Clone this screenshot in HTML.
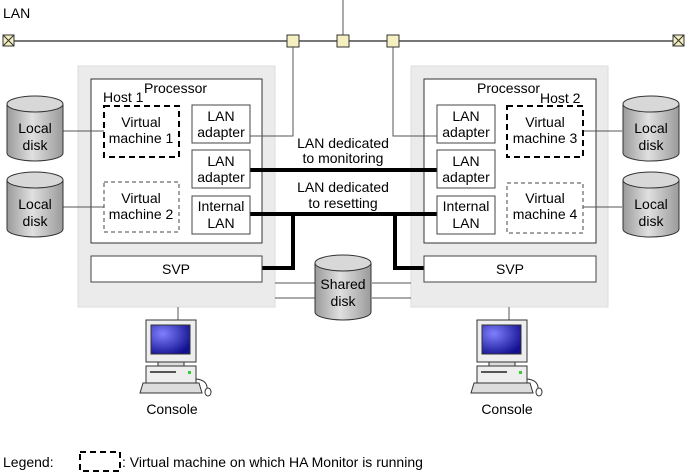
<!DOCTYPE html>
<html><head><meta charset="utf-8"><style>
html,body{margin:0;padding:0;background:#fff;}
svg{display:block;font-family:"Liberation Sans",sans-serif;font-size:14px;}
</style></head><body>
<svg width="687" height="476" viewBox="0 0 687 476" xmlns="http://www.w3.org/2000/svg">
<defs>
<linearGradient id="cyl" x1="0" x2="1" y1="0" y2="0">
<stop offset="0" stop-color="#9a9a9a"/><stop offset="0.45" stop-color="#e0e0e0"/><stop offset="1" stop-color="#9a9a9a"/>
</linearGradient>
<radialGradient id="scr" cx="0.3" cy="0.3" r="0.8">
<stop offset="0" stop-color="#8080ff"/><stop offset="1" stop-color="#101090"/>
</radialGradient>
<g id="disk">
<path d="M0,8 L0,57 A28,8 0 0 0 56,57 L56,8" fill="url(#cyl)" stroke="#333"/>
<ellipse cx="28" cy="8" rx="28" ry="8" fill="#d8d8d8" stroke="#333"/>
</g>
<g id="pc">
<rect x="0" y="0" width="50" height="42" fill="#eee" stroke="#333"/>
<rect x="5" y="5" width="39" height="29" fill="url(#scr)" stroke="#333"/>
<rect x="12" y="42" width="26" height="4" fill="#ddd" stroke="#333"/>
<rect x="0" y="46" width="50" height="17" fill="#eee" stroke="#333"/>
<rect x="4" y="51" width="26" height="2" fill="#555"/>
<rect x="42" y="51" width="3" height="3" fill="#3c3"/>
<path d="M-6,73 L-3,63 L53,63 L56,73 Z" fill="#ddd" stroke="#333"/>
<path d="M50,59 Q62,60 61,70" fill="none" stroke="#333"/>
<ellipse cx="62" cy="72" rx="3" ry="4" fill="#fff" stroke="#333"/>
</g>
</defs>

<text x="3" y="18">LAN</text>
<line x1="9" y1="41" x2="679" y2="41" stroke="#777" stroke-width="2"/>
<line x1="343" y1="0" x2="343" y2="36" stroke="#555"/>
<g stroke="#333" fill="#f4f0c0">
<rect x="3" y="35" width="11" height="11"/><path d="M3,35 L14,46 M14,35 L3,46" fill="none"/>
<rect x="673" y="35" width="11" height="11"/><path d="M673,35 L684,46 M684,35 L673,46" fill="none"/>
<rect x="287" y="35" width="12" height="12"/>
<rect x="337" y="35" width="12" height="12"/>
<rect x="387" y="35" width="12" height="12"/>
</g>

<rect x="78" y="66" width="197" height="241" fill="#ebebeb" stroke="#ddd"/>
<rect x="411" y="66" width="197" height="241" fill="#ebebeb" stroke="#ddd"/>
<rect x="91" y="79" width="171" height="164" fill="#fff" stroke="#333"/>
<rect x="424" y="79" width="172" height="164" fill="#fff" stroke="#333"/>
<text x="144" y="93">Processor</text>
<text x="103" y="102">Host 1</text>
<text x="477" y="93">Processor</text>
<text x="540" y="103">Host 2</text>

<g stroke="#555" fill="none">
<polyline points="250,136 293,136 293,47"/>
<polyline points="437,136 393,136 393,47"/>
<line x1="62" y1="131" x2="104" y2="131"/>
<line x1="62" y1="207" x2="104" y2="207"/>
<line x1="583" y1="131" x2="622" y2="131"/>
<line x1="583" y1="207" x2="622" y2="207"/>
<line x1="275" y1="283" x2="315" y2="283"/>
<line x1="275" y1="298" x2="315" y2="298"/>
<line x1="372" y1="283" x2="411" y2="283"/>
<line x1="372" y1="298" x2="411" y2="298"/>
<line x1="178" y1="307" x2="178" y2="320"/>
<line x1="509" y1="307" x2="509" y2="320"/>
</g>
<g stroke="#000" stroke-width="4" fill="none">
<line x1="250" y1="170" x2="437" y2="170"/>
<line x1="250" y1="214" x2="437" y2="214"/>
<polyline points="293,214 293,268 262,268"/>
<polyline points="395,214 395,268 424,268"/>
</g>
<text x="343" y="148" text-anchor="middle">LAN dedicated</text>
<text x="343" y="163" text-anchor="middle">to monitoring</text>
<text x="343" y="192" text-anchor="middle">LAN dedicated</text>
<text x="343" y="208" text-anchor="middle">to resetting</text>

<g fill="#fff" stroke="#444">
<rect x="192" y="105" width="58" height="38"/>
<rect x="192" y="150" width="58" height="38"/>
<rect x="192" y="196" width="58" height="38"/>
<rect x="437" y="105" width="58" height="38"/>
<rect x="437" y="150" width="58" height="38"/>
<rect x="437" y="196" width="58" height="38"/>
<rect x="91" y="256" width="171" height="26"/>
<rect x="424" y="256" width="172" height="26"/>
</g>
<rect x="104" y="106" width="75" height="51" fill="#fff" stroke="#000" stroke-width="2" stroke-dasharray="6,4"/>
<rect x="507" y="106" width="76" height="51" fill="#fff" stroke="#000" stroke-width="2" stroke-dasharray="6,4"/>
<rect x="104" y="182" width="75" height="50" fill="#fff" stroke="#444" stroke-dasharray="4,3"/>
<rect x="507" y="183" width="76" height="50" fill="#fff" stroke="#444" stroke-dasharray="4,3"/>

<g text-anchor="middle">
<text x="221" y="121">LAN</text><text x="221" y="137">adapter</text>
<text x="221" y="166">LAN</text><text x="221" y="182">adapter</text>
<text x="221" y="211">Internal</text><text x="221" y="228">LAN</text>
<text x="466" y="121">LAN</text><text x="466" y="137">adapter</text>
<text x="466" y="166">LAN</text><text x="466" y="182">adapter</text>
<text x="466" y="211">Internal</text><text x="466" y="228">LAN</text>
<text x="141" y="127">Virtual</text><text x="141" y="143">machine 1</text>
<text x="141" y="203">Virtual</text><text x="141" y="219">machine 2</text>
<text x="545" y="127">Virtual</text><text x="545" y="143">machine 3</text>
<text x="545" y="203">Virtual</text><text x="545" y="219">machine 4</text>
<text x="176" y="274">SVP</text>
<text x="510" y="274">SVP</text>
</g>

<use href="#disk" x="7" y="96"/>
<use href="#disk" x="7" y="172"/>
<use href="#disk" x="623" y="96"/>
<use href="#disk" x="623" y="172"/>
<use href="#disk" x="315" y="255"/>
<g text-anchor="middle">
<text x="35" y="133">Local</text><text x="35" y="150">disk</text>
<text x="35" y="209">Local</text><text x="35" y="226">disk</text>
<text x="651" y="133">Local</text><text x="651" y="150">disk</text>
<text x="651" y="209">Local</text><text x="651" y="226">disk</text>
<text x="343" y="289">Shared</text><text x="343" y="306">disk</text>
</g>

<use href="#pc" x="146" y="320"/>
<use href="#pc" x="477" y="320"/>
<text x="172" y="414" text-anchor="middle">Console</text>
<text x="507" y="414" text-anchor="middle">Console</text>

<text x="3" y="467">Legend:</text>
<rect x="80" y="452" width="40" height="19" fill="none" stroke="#000" stroke-width="2" stroke-dasharray="6,4"/>
<text x="122" y="467">: Virtual machine on which HA Monitor is running</text>
</svg>
</body></html>
